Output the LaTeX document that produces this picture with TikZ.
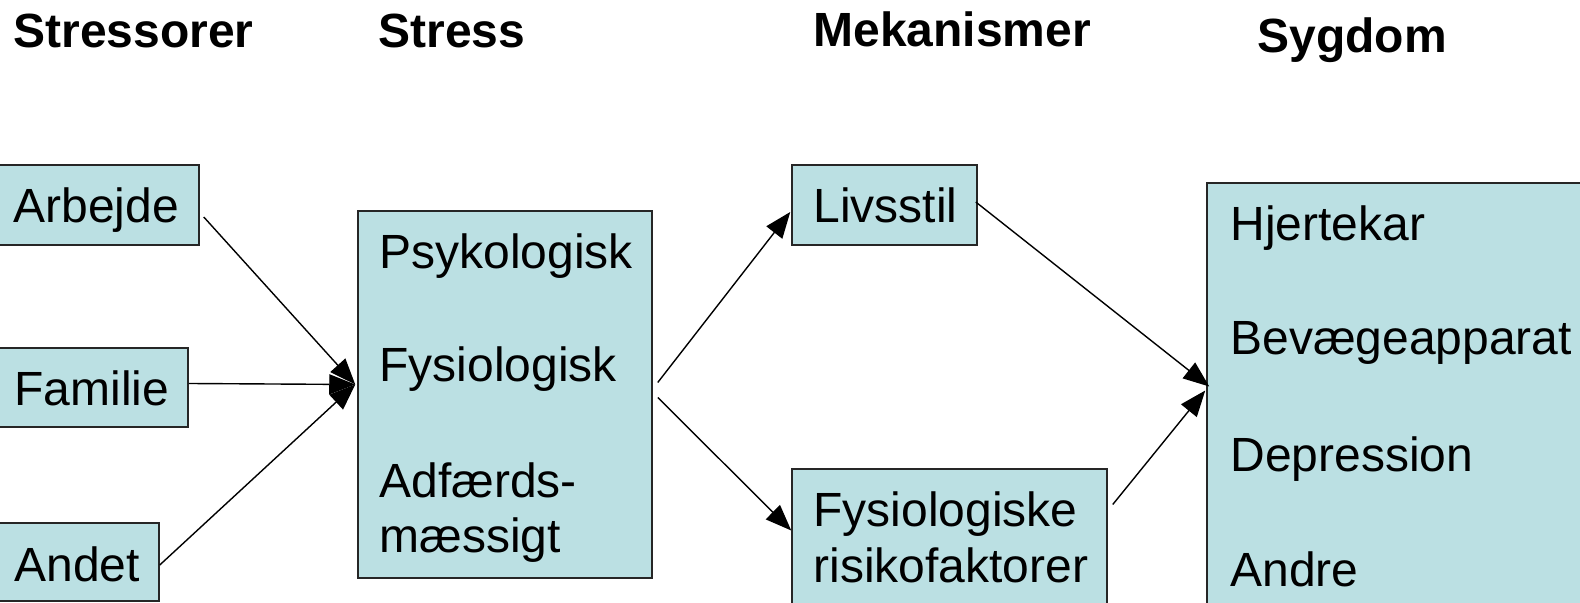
\documentclass[tikz,border=0pt]{standalone}
\usepackage{fontspec}
\setmainfont{Liberation Sans}
\usetikzlibrary{arrows.meta,fit}
\definecolor{boxfill}{RGB}{187,224,227}
\begin{document}
\begin{tikzpicture}[x=0.5pt,y=-0.5pt,
  box/.style={draw=black!85,line width=0.75pt,fill=boxfill,inner sep=0pt,rectangle},
  txt/.style={anchor=base west,inner sep=0pt,font=\fontsize{24}{28}\selectfont},
  title/.style={anchor=base west,inner sep=0pt,font=\fontsize{24}{28}\selectfont\bfseries},
  arr/.style={line width=0.7pt,-{Triangle[length=13pt,width=10pt]}}]
\clip (0,0) rectangle (1580,603);
\useasboundingbox (0,0) rectangle (1580,603);
\fill[white] (0,0) rectangle (1580,603);

% titles
\node[title] (t1) at (13,48) {Stressorer};
\node[title] (t2) at (378,48) {Stress};
\node[title] (t3) at (813,47) {Mekanismer};
\node[title] (t4) at (1257,53) {Sygdom};

% boxes
\node[box,fit={(-5,165) (199,245)}] (arb) {};
\node[box,fit={(-5,348) (188,427)}] (fam) {};
\node[box,fit={(-5,523) (159,601)}] (and) {};
\node[box,fit={(358,211) (652,578)}] (stress) {};
\node[box,fit={(792,165) (977,245)}] (livs) {};
\node[box,fit={(792,469) (1107,620)}] (fys) {};
\node[box,fit={(1207,183) (1600,620)}] (syg) {};

% texts
\node[txt] (arbt) at (13,223) {Arbejde};
\node[txt] (famt) at (14,406) {Familie};
\node[txt] (andt) at (14,582) {Andet};
\node[txt] (s1) at (379,269) {Psykologisk};
\node[txt] (s2) at (379,382) {Fysiologisk};
\node[txt] (s3) at (379,498) {Adfærds-};
\node[txt] (s4) at (379,553) {mæssigt};
\node[txt] (lt) at (813,223) {Livsstil};
\node[txt] (f1) at (813,527) {Fysiologiske};
\node[txt] (f2) at (813,583) {risikofaktorer};
\node[txt] (y1) at (1230,241) {Hjertekar};
\node[txt] (y2) at (1230,355) {Bevægeapparat};
\node[txt] (y3) at (1230,472) {Depression};
\node[txt] (y4) at (1230,587) {Andre};

% connectors
\coordinate (sin) at ([shift={(-2,-10)}]stress.west);
\draw[arr] ([shift={(4,12)}]arb.east) -- (sin);
\draw[arr] ([shift={(0,-4)}]fam.east) -- (sin);
\draw[arr] ([shift={(0,3)}]and.east) -- (sin);
\draw[arr] ([shift={(5,-12)}]stress.east) -- ([shift={(-1,7)}]livs.west);
\draw[arr] ([shift={(5,3)}]stress.east) -- ([shift={(0,-14)}]fys.west);
\draw[arr] ([shift={(-2,-3)}]livs.east) -- ([shift={(3,-15)}]syg.west);
\draw[arr] ([shift={(5,-40)}]fys.east) -- ([shift={(-1,-11)}]syg.west);
\end{tikzpicture}
\end{document}
